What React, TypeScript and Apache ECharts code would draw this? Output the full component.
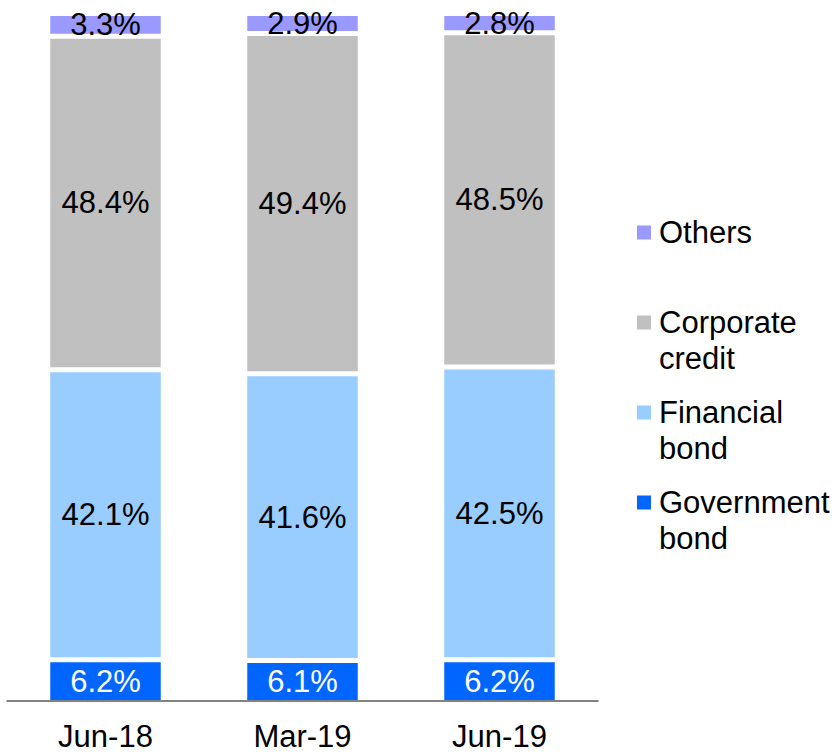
import React, { useEffect, useRef } from "react";
import * as echarts from "echarts";

const categories = ["Jun-18", "Mar-19", "Jun-19"];
const government = [6.2, 6.1, 6.2];
const financial = [42.1, 41.6, 42.5];
const corporate = [48.4, 49.4, 48.5];
const others = [3.3, 2.9, 2.8];

const seriesNames = ["Government bond", "Financial bond", "Corporate credit", "Others"];
const legendLabels = ["Others", "Corporate\ncredit", "Financial\nbond", "Government\nbond"];

const COLORS: Record<string, string> = {
  "Government bond": "#0066FF",
  "Financial bond": "#99CCFF",
  "Corporate credit": "#C0C0C0",
  Others: "#9999FF",
};
const FONT = "'Liberation Sans', Arial, sans-serif";

export default function App() {
  const ref = useRef<HTMLDivElement>(null);
  useEffect(() => {
    document.body.style.margin = "0";
    if (!ref.current) return;
    const chart = echarts.init(ref.current, null, { renderer: "svg" });
    const dataBySeries = [government, financial, corporate, others];
    const legendOrder = ["Others", "Corporate credit", "Financial bond", "Government bond"];
    const graphic: any[] = [];
    legendOrder.forEach((name, i) => {
      const cy = 232.5 + i * 90;
      graphic.push({
        type: "rect",
        shape: { x: 637, y: cy - 7, width: 14, height: 14 },
        style: { fill: COLORS[name] },
      });
      graphic.push({
        type: "text",
        x: 659,
        y: cy - 18,
        style: {
          text: legendLabels[i],
          fontSize: 31,
          fontFamily: FONT,
          lineHeight: 36,
          fill: "#000",
          align: "left",
          verticalAlign: "top",
        },
      });
    });
    chart.setOption({
      animation: false,
      grid: { left: 7, width: 591, top: 13.5, bottom: 50.5 },
      xAxis: {
        type: "category",
        data: categories,
        offset: -1.5,
        z: 10,
        axisTick: { show: false },
        axisLine: { lineStyle: { color: "#595959", width: 1.5 } },
        axisLabel: { fontSize: 31, color: "#000", fontFamily: FONT, margin: 20 },
      },
      yAxis: { type: "value", min: 0, max: 100, show: false, splitLine: { show: false } },
      series: seriesNames.map((name, i) => ({
        name,
        type: "bar",
        stack: "total",
        data: dataBySeries[i],
        barWidth: 115.5,
        itemStyle: { color: COLORS[name], borderColor: "#fff", borderWidth: 2.5 },
        label: {
          show: true,
          position: "inside",
          fontSize: 31,
          fontFamily: FONT,
          color: name === "Government bond" ? "#fff" : "#000",
          formatter: (p: any) => Number(p.value).toFixed(1) + "%",
        },
      })),
      graphic,
    });
    return () => chart.dispose();
  }, []);
  return <div ref={ref} style={{ width: 840, height: 753 }} />;
}
